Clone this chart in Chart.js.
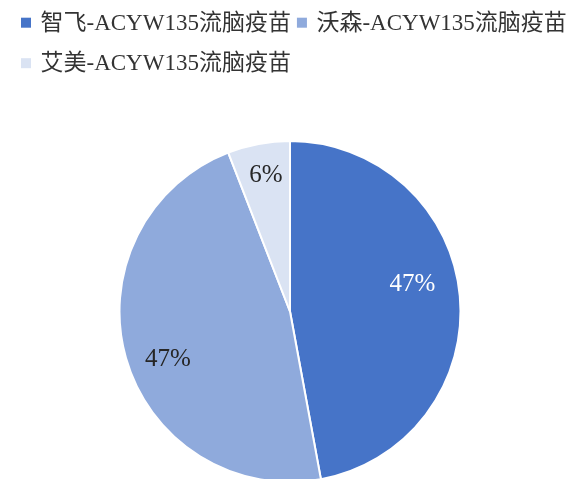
<!DOCTYPE html>
<html>
<head>
<meta charset="utf-8">
<script src="https://cdn.jsdelivr.net/npm/chart.js@4/dist/chart.umd.min.js"></script>
<style>
  html, body { margin: 0; padding: 0; background: #fff; overflow: hidden; }
  #wrap { position: relative; width: 570px; height: 483px; }
</style>
</head>
<body>
<div id="wrap"><canvas id="c"></canvas></div>
<script>
const categories = ['智飞-ACYW135流脑疫苗', '沃森-ACYW135流脑疫苗', '艾美-ACYW135流脑疫苗'];
const shares = [47.1, 47.0, 5.9];
const sliceColors = ['#4674C8', '#8FAADC', '#DAE3F3'];
const labelColors = ['#ffffff', '#262626', '#262626'];

const FONT_STACK = '"Liberation Serif", "Noto Sans CJK SC", serif';

// legend drawn on canvas, Excel-style flow
const excelLegend = {
  id: 'excelLegend',
  afterDraw(chart) {
    const ctx = chart.ctx;
    const box = 10, gapText = 9.5, gapItem = 6, rowH = 40.5;
    let x = 21, y = 22.7;
    ctx.save();
    ctx.font = '23px ' + FONT_STACK;
    ctx.textBaseline = 'middle';
    ctx.textAlign = 'left';
    chart.data.labels.forEach((lab, i) => {
      const w = box + gapText + ctx.measureText(lab).width;
      if (i > 0 && x + w > chart.width) { x = 21; y += rowH; }
      ctx.fillStyle = chart.data.datasets[0].backgroundColor[i];
      ctx.fillRect(x, y - box / 2, box, box);
      ctx.fillStyle = '#333333';
      ctx.fillText(lab, x + box + gapText, y + 1);
      x += w + gapItem;
    });
    ctx.restore();
  }
};

// percentage labels placed inside slices (best-fit style)
const labelPlace = [{r: 0.736, da: -7.7}, {r: 0.766, da: -5.1}, {r: 0.815, da: 0.6}];
const sliceLabels = {
  id: 'sliceLabels',
  afterDatasetsDraw(chart) {
    const ctx = chart.ctx;
    const meta = chart.getDatasetMeta(0);
    const data = chart.data.datasets[0].data;
    const total = data.reduce((a, b) => a + b, 0);
    ctx.save();
    ctx.font = '25px "Liberation Serif", serif';
    ctx.textAlign = 'center';
    ctx.textBaseline = 'middle';
    meta.data.forEach((arc, i) => {
      const p = arc.getProps(['x', 'y', 'startAngle', 'endAngle', 'outerRadius'], true);
      const mid = (p.startAngle + p.endAngle) / 2 + labelPlace[i].da * Math.PI / 180;
      const r = p.outerRadius * labelPlace[i].r;
      const tx = p.x + Math.cos(mid) * r;
      const ty = p.y + Math.sin(mid) * r;
      ctx.fillStyle = labelColors[i];
      ctx.fillText(Math.round(data[i] / total * 100) + '%', tx, ty + 1);
    });
    ctx.restore();
  }
};

new Chart(document.getElementById('c'), {
  type: 'pie',
  data: {
    labels: categories,
    datasets: [{
      data: shares,
      backgroundColor: sliceColors,
      borderColor: '#ffffff',
      borderWidth: 2
    }]
  },
  options: {
    responsive: true,
    maintainAspectRatio: false,
    animation: false,
    layout: { padding: { top: 140, left: 10, right: 0, bottom: 0 } },
    plugins: {
      legend: { display: false },
      tooltip: { enabled: false }
    }
  },
  plugins: [excelLegend, sliceLabels]
});
</script>
</body>
</html>
